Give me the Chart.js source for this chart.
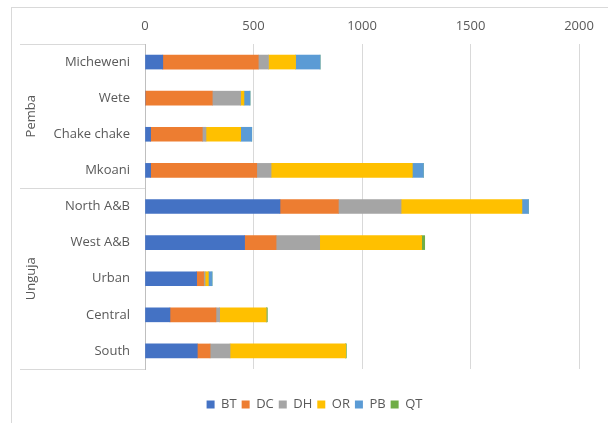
<!DOCTYPE html>
<html>
<head>
<meta charset="utf-8">
<script src="https://cdn.jsdelivr.net/npm/chart.js@4"></script>
<style>
  html, body { margin: 0; padding: 0; background: #fff; }
  #wrap { width: 608px; height: 423px; position: relative; }
</style>
</head>
<body>
<div id="wrap"><canvas id="bars"></canvas></div>
<script>
// districts, top to bottom
var districts = ["Micheweni", "Wete", "Chake chake", "Mkoani",
                 "North A&B", "West A&B", "Urban", "Central", "South"];
var islands = ["Pemba", "Unguja"];
var islandSizes = [4, 5];

var BT = [82, 0, 26, 26, 622, 459, 238, 115, 241];
var DC = [440, 310, 238, 489, 269, 145, 32, 212, 59];
var DH = [47, 131, 17, 66, 289, 201, 7, 17, 92];
var OR = [125, 15, 160, 651, 557, 470, 15, 215, 533];
var PB = [113, 28, 51, 51, 30, 0, 17, 0, 0];
var QT = [0, 0, 0, 0, 0, 14, 0, 5, 3];

var xTicks = [0, 500, 1000, 1500, 2000];

var textColor = "#595959";
var lineColor = "#d9d9d9";
var fontName = "'Open Sans', sans-serif";

function makeSet(name, values, color){
    return {
        label: name,
        data: values,
        backgroundColor: color,
        borderWidth: 0,
        barThickness: 14
    };
}

// frame, island boxes and rotated island names
var groupPlugin = {
    id: "groups",
    beforeDraw: function(chart){
        var c = chart.ctx;
        c.save();
        c.strokeStyle = lineColor;
        c.lineWidth = 1;
        c.strokeRect(11.5, 7.5, 800, 800);
        c.restore();
    },
    afterDraw: function(chart){
        var c = chart.ctx;
        var y = chart.scales.y;
        var area = chart.chartArea;
        var left = 20;
        var right = area.left;
        var lines = [area.top];
        var start = 0;
        var i;
        for(i = 0; i < islandSizes.length; i++){
            start += islandSizes[i];
            if(start < districts.length){
                lines.push((y.getPixelForValue(start - 1) + y.getPixelForValue(start)) / 2);
            } else {
                lines.push(area.bottom);
            }
        }
        c.save();
        c.strokeStyle = lineColor;
        c.lineWidth = 1;
        for(i = 0; i < lines.length; i++){
            var ly = Math.round(lines[i]) + 0.5;
            c.beginPath();
            c.moveTo(left, ly);
            c.lineTo(right, ly);
            c.stroke();
        }
        c.fillStyle = textColor;
        c.font = "13px " + fontName;
        c.textAlign = "center";
        c.textBaseline = "middle";
        for(i = 0; i < islands.length; i++){
            var mid = (lines[i] + lines[i + 1]) / 2;
            c.save();
            c.translate(31, mid);
            c.rotate(-Math.PI / 2);
            c.fillText(islands[i], 0, 0);
            c.restore();
        }
        c.restore();
    }
};

var ctx = document.getElementById("bars");

var chart = new Chart(ctx, {
    type: "bar",
    data: {
        labels: districts,
        datasets: [
            makeSet("BT", BT, "#4472C4"),
            makeSet("DC", DC, "#ED7D31"),
            makeSet("DH", DH, "#A5A5A5"),
            makeSet("OR", OR, "#FFC000"),
            makeSet("PB", PB, "#5B9BD5"),
            makeSet("QT", QT, "#70AD47")
        ]
    },
    options: {
        indexAxis: "y",
        responsive: true,
        maintainAspectRatio: false,
        animation: false,
        layout: { padding: { left: 50, right: 29, top: 0, bottom: 2 } },
        scales: {
            x: {
                position: "top",
                stacked: true,
                min: 0,
                max: 2000,
                afterBuildTicks: function(scale){
                    scale.ticks = xTicks.map(function(v){ return { value: v }; });
                },
                afterFit: function(scale){ scale.height = 44; },
                grid: { color: lineColor, drawTicks: false },
                border: { display: false },
                ticks: {
                    color: textColor,
                    padding: 10,
                    font: { family: fontName, size: 13 },
                    callback: function(v){ return String(v); }
                }
            },
            x2: {
                position: "bottom",
                min: 0,
                max: 2000,
                afterFit: function(scale){ scale.height = 24; },
                grid: { display: false, drawTicks: false },
                border: { display: false },
                ticks: { display: false }
            },
            y: {
                stacked: true,
                afterFit: function(scale){ scale.width = 95; },
                grid: { display: false, drawTicks: false },
                border: { display: true, color: "#bfbfbf" },
                ticks: {
                    color: textColor,
                    padding: 15,
                    font: { family: fontName, size: 13 }
                }
            }
        },
        plugins: {
            legend: {
                position: "bottom",
                labels: {
                    usePointStyle: true,
                    pointStyle: "rect",
                    boxWidth: 8,
                    boxHeight: 8,
                    padding: 5,
                    color: textColor,
                    font: { family: fontName, size: 13 }
                }
            },
            tooltip: { enabled: false }
        }
    },
    plugins: [groupPlugin]
});
</script>
</body>
</html>
